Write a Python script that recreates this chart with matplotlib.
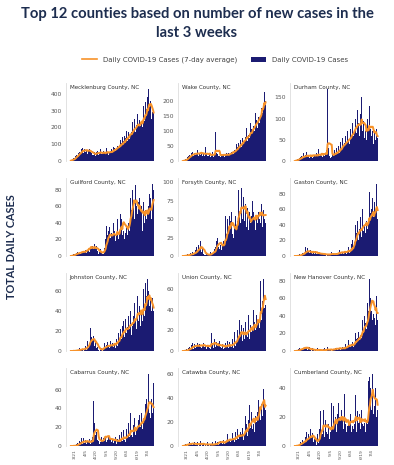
import numpy as np
import pandas as pd
import matplotlib
matplotlib.use('Agg')
import matplotlib.pyplot as plt
import matplotlib.dates as mdates
from matplotlib.lines import Line2D
from matplotlib.patches import Patch

# farby
NAVY = '#1b1b72'
ORANGE = '#f7922a'
TITLE_COLOR = '#1d2d4f'
TICK_COLOR = '#555555'

dates = pd.date_range('2020-03-15', '2020-07-12', freq='D')

counties = ['Mecklenburg County, NC', 'Wake County, NC', 'Durham County, NC',
            'Guilford County, NC', 'Forsyth County, NC', 'Gaston County, NC',
            'Johnston County, NC', 'Union County, NC', 'New Hanover County, NC',
            'Cabarrus County, NC', 'Catawba County, NC', 'Cumberland County, NC']

mecklenburg = [2, 5, 8, 12, 15, 20, 25, 30, 35, 40,
               30, 45, 55, 60, 48, 70, 65, 75, 50, 60,
               72, 55, 68, 75, 40, 62, 58, 70, 55, 50,
               45, 35, 42, 38, 55, 30, 48, 52, 60, 45,
               38, 55, 42, 70, 40, 48, 35, 62, 50, 45,
               40, 75, 48, 52, 38, 60, 45, 58, 70, 50,
               62, 85, 55, 78, 60, 95, 70, 88, 110, 75,
               90, 125, 80, 105, 140, 95, 118, 150, 100, 135,
               180, 120, 145, 170, 130, 210, 160, 175, 140, 230,
               185, 200, 250, 170, 215, 190, 280, 220, 160, 245,
               210, 300, 230, 200, 330, 260, 240, 350, 290, 310,
               380, 280, 430, 320, 300, 360, 250, 290, 200, 300]
wake = [0, 1, 2, 4, 6, 8, 10, 12, 15, 18,
        20, 15, 25, 22, 30, 18, 24, 28, 20, 26,
        22, 35, 18, 25, 28, 20, 42, 24, 18, 22,
        26, 15, 20, 45, 22, 18, 25, 16, 20, 28,
        14, 18, 22, 30, 12, 20, 35, 98, 25, 18,
        22, 15, 28, 18, 12, 25, 20, 16, 22, 30,
        14, 20, 18, 25, 22, 15, 28, 20, 35, 24,
        30, 26, 40, 22, 35, 45, 30, 55, 38, 48,
        60, 42, 55, 70, 48, 65, 75, 58, 90, 62,
        80, 70, 110, 65, 85, 100, 78, 125, 90, 105,
        95, 140, 115, 100, 160, 120, 135, 110, 170, 145,
        125, 200, 150, 175, 240, 160, 190, 230, 170, 200]
durham = [0, 1, 2, 3, 5, 4, 8, 6, 10, 5,
          12, 8, 20, 6, 10, 14, 7, 22, 9, 12,
          15, 8, 10, 18, 12, 6, 25, 10, 14, 8,
          12, 20, 9, 15, 28, 11, 8, 16, 12, 30,
          10, 14, 22, 12, 18, 25, 15, 170, 30, 20,
          12, 8, 18, 10, 22, 15, 12, 25, 14, 18,
          30, 16, 22, 35, 20, 28, 45, 25, 32, 55,
          38, 42, 30, 60, 45, 35, 70, 50, 58, 40,
          75, 55, 65, 90, 60, 80, 70, 100, 85, 65,
          120, 75, 90, 60, 110, 80, 150, 70, 65, 95,
          55, 85, 70, 50, 100, 65, 80, 130, 55, 75,
          60, 95, 70, 40, 80, 65, 50, 75, 45, 55]
guilford = [0, 0, 1, 1, 2, 2, 3, 2, 4, 3,
            5, 2, 4, 6, 3, 5, 8, 4, 6, 3,
            5, 7, 4, 16, 6, 8, 15, 5, 10, 16,
            8, 12, 6, 9, 14, 10, 7, 12, 6, 4,
            3, 5, 2, 8, 4, 3, 6, 2, 10, 15,
            20, 36, 18, 25, 30, 15, 35, 22, 28, 18,
            25, 40, 20, 30, 18, 24, 28, 45, 22, 20,
            30, 50, 35, 45, 25, 70, 30, 20, 40, 28,
            35, 25, 50, 40, 30, 65, 70, 55, 64, 80,
            65, 70, 45, 85, 60, 55, 50, 65, 40, 70,
            55, 45, 60, 30, 65, 50, 40, 55, 80, 45,
            50, 35, 60, 75, 55, 70, 45, 87, 60, 80]
forsyth = [0, 0, 0, 1, 0, 2, 1, 3, 0, 2,
           1, 4, 2, 3, 5, 2, 6, 3, 8, 4,
           12, 6, 15, 10, 8, 20, 14, 6, 9, 4,
           3, 2, 4, 1, 3, 2, 0, 2, 1, 3,
           5, 2, 8, 4, 6, 10, 3, 12, 20, 24,
           25, 12, 18, 10, 15, 22, 8, 14, 20, 12,
           18, 55, 25, 30, 50, 28, 40, 55, 35, 48,
           60, 30, 45, 25, 38, 20, 55, 40, 70, 48,
           90, 55, 60, 45, 92, 70, 50, 80, 65, 48,
           70, 55, 40, 65, 35, 50, 60, 45, 30, 55,
           75, 40, 60, 50, 35, 68, 55, 45, 70, 60,
           50, 65, 45, 70, 55, 40, 62, 50, 68, 45]
gaston = [0, 0, 0, 0, 1, 0, 1, 2, 1, 3,
          2, 4, 3, 5, 2, 12, 4, 6, 10, 3,
          5, 4, 8, 2, 6, 3, 10, 4, 2, 5,
          6, 3, 4, 2, 5, 3, 1, 4, 2, 3,
          2, 4, 1, 3, 2, 0, 3, 1, 2, 4,
          1, 3, 2, 5, 1, 2, 4, 1, 3, 2,
          4, 2, 6, 3, 8, 2, 5, 3, 7, 4,
          3, 6, 10, 4, 2, 8, 5, 12, 6, 4,
          8, 15, 6, 20, 10, 25, 18, 40, 22, 30,
          45, 28, 20, 35, 50, 30, 25, 60, 38, 32,
          40, 55, 30, 45, 35, 50, 42, 82, 40, 55,
          60, 35, 75, 50, 45, 70, 58, 93, 50, 48]
johnston = [0, 0, 0, 0, 1, 0, 0, 1, 0, 2,
            0, 1, 3, 0, 2, 1, 4, 2, 0, 3,
            2, 5, 1, 4, 10, 3, 12, 8, 23, 6,
            14, 10, 8, 15, 5, 9, 7, 3, 4, 2,
            1, 0, 2, 1, 3, 0, 5, 2, 8, 4,
            3, 6, 2, 9, 4, 7, 3, 10, 5, 2,
            8, 4, 15, 6, 3, 9, 12, 5, 14, 18,
            10, 22, 15, 12, 25, 18, 30, 14, 20, 32,
            18, 24, 15, 35, 22, 28, 40, 16, 30, 25,
            35, 28, 48, 32, 22, 40, 55, 30, 38, 45,
            25, 50, 38, 30, 62, 45, 35, 68, 40, 55,
            72, 48, 60, 45, 38, 52, 40, 53, 35, 40]
union = [0, 0, 0, 1, 0, 2, 1, 0, 3, 2,
         4, 1, 6, 3, 8, 2, 5, 7, 3, 6,
         4, 8, 5, 2, 7, 4, 9, 3, 6, 5,
         8, 4, 3, 6, 2, 5, 9, 4, 3, 7,
         2, 17, 5, 8, 3, 12, 6, 4, 9, 3,
         5, 8, 2, 10, 4, 6, 3, 7, 2, 5,
         3, 8, 2, 5, 10, 4, 3, 9, 2, 6,
         4, 12, 6, 3, 18, 8, 5, 10, 15, 20,
         12, 30, 8, 18, 25, 14, 10, 22, 16, 12,
         28, 10, 18, 14, 35, 20, 12, 25, 30, 18,
         22, 15, 40, 28, 20, 18, 35, 25, 45, 30,
         22, 40, 68, 30, 55, 48, 70, 42, 62, 45]
new_hanover = [0, 0, 0, 1, 0, 2, 1, 3, 2, 4,
               1, 3, 2, 8, 3, 5, 2, 4, 1, 3,
               2, 4, 1, 2, 0, 3, 1, 2, 0, 1,
               2, 0, 1, 3, 0, 1, 2, 0, 1, 0,
               1, 2, 0, 3, 1, 0, 2, 4, 1, 0,
               2, 1, 3, 0, 1, 4, 2, 1, 3, 5,
               2, 1, 4, 2, 3, 6, 1, 3, 2, 4,
               3, 5, 2, 8, 4, 3, 6, 12, 5, 7,
               4, 8, 6, 10, 5, 12, 9, 20, 7, 14,
               15, 10, 22, 12, 18, 30, 15, 35, 25, 20,
               40, 28, 32, 25, 55, 38, 45, 82, 50, 60,
               45, 80, 35, 42, 55, 38, 30, 62, 40, 35]
cabarrus = [0, 0, 0, 0, 1, 0, 1, 0, 2, 1,
            3, 2, 5, 1, 4, 8, 3, 2, 9, 5,
            3, 6, 2, 8, 4, 5, 3, 7, 2, 4,
            6, 10, 5, 48, 25, 12, 8, 15, 6, 3,
            5, 2, 8, 4, 10, 6, 3, 9, 5, 29,
            8, 4, 12, 6, 10, 5, 9, 7, 4, 11,
            6, 3, 8, 5, 10, 4, 2, 7, 3, 6,
            12, 4, 8, 15, 5, 3, 17, 6, 10, 4,
            18, 8, 12, 25, 10, 6, 35, 12, 15, 10,
            22, 14, 30, 12, 18, 25, 20, 28, 15, 33,
            20, 25, 35, 18, 30, 42, 28, 45, 40, 50,
            38, 42, 77, 35, 45, 30, 50, 35, 28, 67]
catawba = [0, 0, 1, 0, 2, 1, 3, 0, 2, 1,
           3, 1, 2, 4, 1, 2, 0, 3, 1, 2,
           1, 3, 0, 2, 1, 4, 2, 0, 1, 3,
           2, 0, 1, 2, 0, 3, 1, 2, 0, 1,
           2, 1, 0, 3, 1, 2, 0, 4, 1, 2,
           3, 1, 9, 2, 4, 1, 3, 2, 5, 3,
           2, 4, 6, 3, 10, 2, 5, 4, 8, 3,
           5, 11, 4, 6, 3, 8, 12, 5, 9, 14,
           6, 8, 4, 12, 10, 7, 15, 5, 13, 9,
           25, 10, 18, 8, 22, 12, 34, 15, 20, 28,
           14, 30, 18, 12, 25, 34, 20, 28, 15, 38,
           30, 60, 22, 35, 40, 25, 47, 38, 20, 30]
cumberland = [0, 0, 0, 1, 0, 1, 2, 1, 3, 2,
              1, 4, 2, 5, 3, 6, 2, 10, 4, 3,
              8, 5, 12, 4, 7, 9, 6, 3, 5, 2,
              4, 1, 3, 8, 2, 12, 5, 24, 10, 15,
              8, 25, 12, 6, 18, 10, 22, 8, 15, 12,
              5, 10, 8, 30, 12, 6, 28, 15, 20, 18,
              10, 22, 14, 30, 20, 12, 18, 25, 15, 20,
              12, 36, 8, 15, 10, 24, 14, 18, 12, 16,
              22, 10, 28, 14, 12, 20, 15, 35, 18, 10,
              24, 14, 16, 22, 12, 18, 25, 15, 20, 14,
              16, 22, 10, 18, 15, 28, 45, 48, 35, 40,
              25, 30, 50, 22, 35, 28, 40, 20, 30, 25]

series = [mecklenburg, wake, durham, guilford, forsyth, gaston,
          johnston, union, new_hanover, cabarrus, catawba, cumberland]
y_ticks = [[0, 100, 200, 300, 400], [0, 50, 100, 150, 200], [0, 50, 100, 150],
           [0, 20, 40, 60, 80], [0, 25, 50, 75, 100], [0, 20, 40, 60, 80],
           [0, 20, 40, 60], [0, 20, 40, 60], [0, 20, 40, 60, 80],
           [0, 20, 40, 60], [0, 20, 40, 60], [0, 20, 40]]
x_tick_dates = pd.to_datetime(['2020-03-21', '2020-04-05', '2020-04-20', '2020-05-05',
                               '2020-05-20', '2020-06-04', '2020-06-19', '2020-07-04'])
x_tick_labels = ['3/21', '4/5', '4/20', '5/5', '5/20', '6/4', '6/19', '7/4']

W, H = 394, 465
fig = plt.figure(figsize=(W / 100, H / 100), dpi=100)
fig.patch.set_facecolor('white')

col_left = [66, 178, 290]
row_top = [83, 178, 273, 368]
ax_w, ax_h = 89, 78

for i, (name, vals) in enumerate(zip(counties, series)):
    r, c = divmod(i, 3)
    ax = fig.add_axes([col_left[c] / W, 1 - (row_top[r] + ax_h) / H, ax_w / W, ax_h / H])
    s = pd.Series(vals, index=dates, dtype=float)
    avg = s.rolling(7, min_periods=1).mean()
    ax.bar(dates, s.values, width=1.0, color=NAVY, linewidth=0)
    ax.plot(dates, avg.values, color=ORANGE, lw=1.4)
    ax.set_xlim(pd.Timestamp('2020-03-08'), pd.Timestamp('2020-07-14'))
    ax.set_yticks(y_ticks[i])
    top = max(max(vals) * 1.08, y_ticks[i][-1] * 1.06)
    ax.set_ylim(0, top)
    for sp in ['top', 'right', 'bottom']:
        ax.spines[sp].set_visible(False)
    ax.spines['left'].set_color('#dddddd')
    ax.spines['left'].set_linewidth(0.6)
    ax.tick_params(axis='y', length=0, labelsize=4.3, labelcolor=TICK_COLOR, pad=3)
    ax.set_xticks(x_tick_dates)
    if r == 3:
        ax.set_xticklabels(x_tick_labels, rotation=90, fontsize=3.2, color=TICK_COLOR)
        ax.tick_params(axis='x', length=0, pad=2)
    else:
        ax.set_xticklabels([])
        ax.tick_params(axis='x', length=0)
    ax.text(0.04, 0.97, name, transform=ax.transAxes, fontsize=4.1,
            color='#333333', va='top', ha='left')

fig.text(0.5, 1 - 7 / H, 'Top 12 counties based on number of new cases in the\nlast 3 weeks',
         ha='center', va='top', fontsize=10.6, fontweight='bold', color=TITLE_COLOR,
         family='Lato', linespacing=1.45)

fig.text(12 / W, 1 - 247 / H, 'TOTAL DAILY CASES', rotation=90, ha='center', va='center',
         fontsize=7.8, fontweight='bold', color=TITLE_COLOR, family='Lato')

legend_elements = [
    Line2D([0], [0], color=ORANGE, lw=1.2, label='Daily COVID-19 Cases (7-day average)'),
    Patch(facecolor=NAVY, label='Daily COVID-19 Cases'),
]
fig.legend(handles=legend_elements, loc='center', ncol=2, frameon=False,
           bbox_to_anchor=(0.546, 1 - 60 / H), fontsize=5, handlelength=2.2,
           handleheight=0.6, columnspacing=2.0, labelcolor='#444444')

plt.savefig('out.png', dpi=100, facecolor='white')
